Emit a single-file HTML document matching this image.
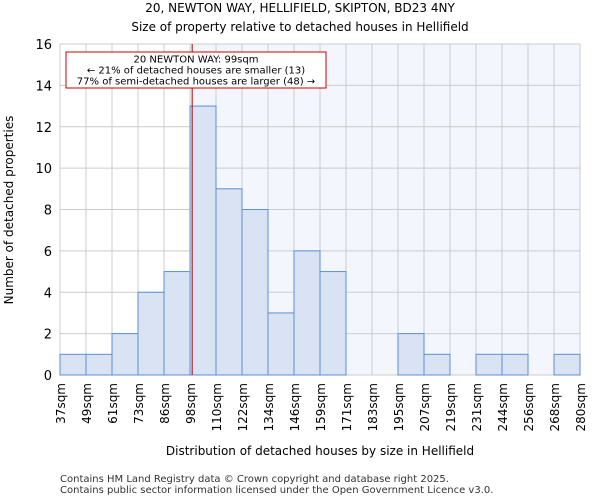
<!DOCTYPE html>
<html><head><meta charset="utf-8"><style>
body{margin:0;background:#fff;font-family:"DejaVu Sans","Liberation Sans",sans-serif;}
</style></head><body>
<svg width="600" height="500" xmlns="http://www.w3.org/2000/svg" font-family="DejaVu Sans, Liberation Sans, sans-serif">
<text x="300" y="12" font-size="12" text-anchor="middle">20, NEWTON WAY, HELLIFIELD, SKIPTON, BD23 4NY</text>
<text x="300" y="31" font-size="12" text-anchor="middle">Size of property relative to detached houses in Hellifield</text>
<g id="plot"></g>
<text x="320" y="455" font-size="12" text-anchor="middle">Distribution of detached houses by size in Hellifield</text>
<text transform="translate(13,210) rotate(-90)" font-size="12" text-anchor="middle">Number of detached properties</text>
<text x="60" y="482" font-size="10" fill="#333">Contains HM Land Registry data © Crown copyright and database right 2025.</text>
<text x="60" y="493" font-size="10" fill="#333">Contains public sector information licensed under the Open Government Licence v3.0.</text>
</svg>
<script>
const binLabels=["37sqm","49sqm","61sqm","73sqm","86sqm","98sqm","110sqm","122sqm","134sqm","146sqm","159sqm","171sqm","183sqm","195sqm","207sqm","219sqm","231sqm","244sqm","256sqm","268sqm","280sqm"];
const counts=[1,1,2,4,5,13,9,8,3,6,5,0,0,2,1,0,1,1,0,1];
const yTicks=[0,2,4,6,8,10,12,14,16];
const propertySize=99;
const binEdges=[37,49,61,73,86,98,110,122,134,146,159,171,183,195,207,219,231,244,256,268,280];
const X0=60,X1=580,Y0=375,Y1=44,YMAX=16;
const NS="http://www.w3.org/2000/svg";
const g=document.getElementById('plot');
const bw=(X1-X0)/counts.length;
const xs=i=>X0+i*bw;
const ys=v=>Y0-(v/YMAX)*(Y0-Y1);
function sizeToX(s){for(let i=0;i<binEdges.length-1;i++){if(s>=binEdges[i]&&s<=binEdges[i+1])return xs(i)+bw*(s-binEdges[i])/(binEdges[i+1]-binEdges[i]);}return X0;}
function mk(t,a){const e=document.createElementNS(NS,t);for(const k in a)e.setAttribute(k,a[k]);g.appendChild(e);return e;}
const lx=sizeToX(propertySize);
let bg=mk('rect',{x:lx,y:Y1,width:X1-lx,height:Y0-Y1,fill:'#f3f6fc'});


for(let i=0;i<=counts.length;i++){let l=mk('line',{x1:xs(i),x2:xs(i),y1:Y1,y2:Y0,stroke:'#cccccc','stroke-width':1});

}
yTicks.forEach(t=>{let l=mk('line',{x1:X0,x2:X1,y1:ys(t),y2:ys(t),stroke:'#cccccc','stroke-width':1});


let tx=mk('text',{x:X0-8,y:ys(t)+5,'font-size':13,'text-anchor':'end'});tx.textContent=t;

});
counts.forEach((c,i)=>{if(c<=0)return;let r=mk('rect',{x:xs(i),y:ys(c),width:bw,height:Y0-ys(c),fill:'#dae3f3',stroke:'#5b8fd6','stroke-width':1});

});
binLabels.forEach((b,i)=>{let tx=mk('text',{transform:`translate(${xs(i)+5},383) rotate(-90)`,'font-size':12,'text-anchor':'end'});tx.textContent=b;

});
let rl=mk('line',{x1:lx,x2:lx,y1:Y1,y2:Y0,stroke:'#b00000','stroke-width':1});


let box=mk('rect',{x:66,y:52,width:260,height:36,fill:'#fff',stroke:'#cc0000','stroke-width':1});


["20 NEWTON WAY: 99sqm","← 21% of detached houses are smaller (13)","77% of semi-detached houses are larger (48) →"].forEach((s,i)=>{let tx=mk('text',{x:196,y:62.5+i*11,'font-size':10,'text-anchor':'middle'});tx.textContent=s;

});
</script>
</body></html>
